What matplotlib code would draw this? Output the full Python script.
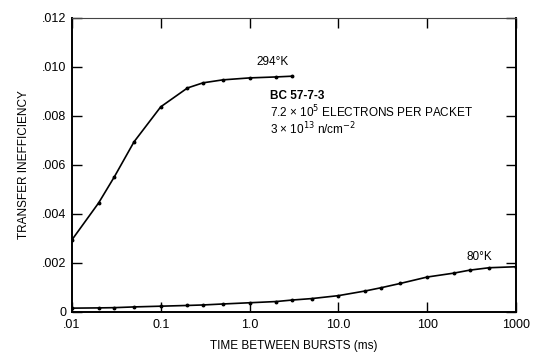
import matplotlib
matplotlib.use("Agg")
import matplotlib.pyplot as plt

plt.rcParams['font.family'] = ['Liberation Sans', 'DejaVu Sans']

# 294 K curve
t_294 = [0.01, 0.02, 0.03, 0.05, 0.1, 0.2, 0.3, 0.5, 1.0, 2.0, 3.0]
ti_294 = [0.00294, 0.00445, 0.00551, 0.00694, 0.00837, 0.00914, 0.00935,
          0.00947, 0.00955, 0.00959, 0.00962]

# 80 K curve
t_80 = [0.01, 0.02, 0.03, 0.05, 0.1, 0.2, 0.3, 0.5, 1.0, 2.0, 3.0, 5.0,
        10.0, 20.0, 30.0, 50.0, 100.0, 200.0, 300.0, 500.0, 1000.0]
ti_80 = [0.00015, 0.00016, 0.00017, 0.00020, 0.00023, 0.00026, 0.00028,
         0.00032, 0.00037, 0.00042, 0.00048, 0.00054, 0.00066, 0.00085,
         0.00098, 0.00116, 0.00142, 0.00158, 0.00170, 0.00180, 0.00184]

xticks = [0.01, 0.1, 1.0, 10.0, 100.0, 1000.0]
xticklabels = [".01", "0.1", "1.0", "10.0", "100", "1000"]
yticks = [0, 0.002, 0.004, 0.006, 0.008, 0.010, 0.012]
yticklabels = ["0", ".002", ".004", ".006", ".008", ".010", ".012"]

fig = plt.figure(figsize=(5.33, 3.58), dpi=100)
ax1 = fig.add_axes([0.135, 0.129, 0.833, 0.821])

ax1.plot(t_294, ti_294, color="black", lw=1.2, marker="o", ms=1.8)
ax1.plot(t_80, ti_80, color="black", lw=1.2, marker="o", ms=1.8)

ax1.set_xscale("log")
ax1.set_xlim(0.01, 1000)
ax1.set_ylim(0, 0.012)
ax1.minorticks_off()
ax1.set_xticks(xticks)
ax1.set_xticklabels(xticklabels)
ax1.set_yticks(yticks)
ax1.set_yticklabels(yticklabels)
ax1.tick_params(direction="in", length=7, width=1, labelsize=9,
                top=True, right=True, pad=5)
ax1.tick_params(axis="y", pad=4)

for side in ["left", "right", "bottom"]:
    ax1.spines[side].set_linewidth(1.4)
ax1.spines["top"].set_linewidth(0.8)
ax1.spines["top"].set_color("#444444")

font_size = 8.5
ax1.set_xlabel("TIME BETWEEN BURSTS (ms)", size=font_size, labelpad=7)
ax1.set_ylabel("TRANSFER INEFFICIENCY", size=font_size, labelpad=9)

ax1.text(1.8, 0.0102, "294°K", fontsize=8.5, ha="center", va="center")
ax1.text(390, 0.00224, "80°K", fontsize=8.5, ha="center", va="center")
ax1.text(1.7, 0.0088, "BC 57-7-3", fontsize=8.5, fontweight="bold",
         ha="left", va="center")
ax1.text(1.7, 0.00848, "7.2 × 10$^5$ ELECTRONS PER PACKET\n"
         "3 × 10$^{13}$ n/cm$^{-2}$", fontsize=8.5,
         ha="left", va="top", linespacing=1.0)

fig.savefig("out.png", dpi=100)
